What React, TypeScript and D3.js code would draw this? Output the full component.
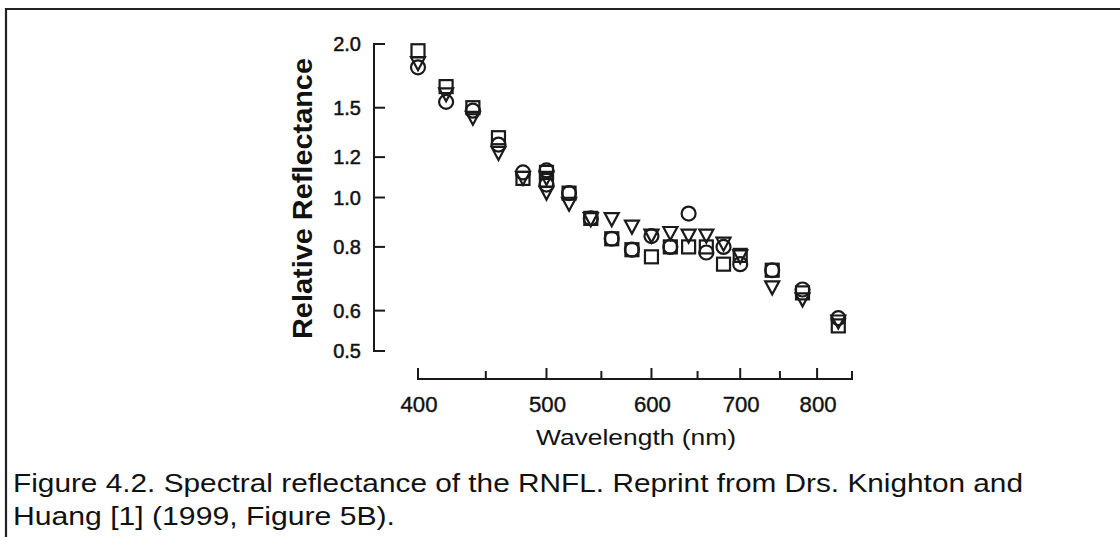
import React from "react";
import * as d3 from "d3";

const wavelengths = [400, 420, 440, 460, 480, 500, 500, 520, 540, 560, 580, 600, 620, 640, 660, 680, 700, 740, 780, 830];
const squares = [1.94, 1.65, 1.5, 1.31, 1.09, 1.12, 1.08, 1.02, 0.91, 0.83, 0.79, 0.765, 0.8, 0.8, 0.8, 0.74, 0.77, 0.72, 0.65, 0.56];
const circles = [1.8, 1.54, 1.48, 1.27, 1.12, 1.13, 1.06, 1.02, 0.91, 0.83, 0.79, 0.84, 0.8, 0.93, 0.78, 0.8, 0.74, 0.72, 0.66, 0.58];
const triangles = [1.83, 1.59, 1.43, 1.22, 1.09, 1.09, 1.02, 0.97, 0.905, 0.905, 0.875, 0.84, 0.85, 0.84, 0.84, 0.81, 0.765, 0.665, 0.63, 0.57];

const yTicks = [0.5, 0.6, 0.8, 1.0, 1.2, 1.5, 2.0];
const xMajor = [400, 500, 600, 700, 800];
const xMinor = [450, 550, 650, 750, 850];

const FONT = "Arial, 'Liberation Sans', Helvetica, sans-serif";

export default function App() {
  const x = d3.scaleLog().domain([400, 850]).range([418, 852]);
  const y = d3.scaleLog().domain([0.5, 2.0]).range([351, 44]);
  const axisX = 374;
  const axisY = 379;
  const ink = "#1a1a1a";

  const tri = (cx: number, cy: number) => {
    const w = 7, h = 6.5;
    return `M${cx - w},${cy - h}L${cx + w},${cy - h}L${cx},${cy + h}Z`;
  };

  return (
    <svg width={1120} height={537} style={{ position: "absolute", left: 0, top: 0, background: "#fff" }}>
      <rect x={0} y={0} width={1120} height={537} fill="#fff" />
      {/* frame */}
      <path d="M6,540 L6,9 L1125,9" fill="none" stroke="#222" strokeWidth={2.2} />

      {/* y axis */}
      <line x1={axisX} x2={axisX} y1={y(2.0)} y2={y(0.5)} stroke={ink} strokeWidth={2} />
      {yTicks.map((t) => (
        <g key={"yt" + t}>
          <line x1={axisX - 1} x2={axisX + 11} y1={y(t)} y2={y(t)} stroke={ink} strokeWidth={2} />
          <text x={361} y={y(t)} dy="0.36em" textAnchor="end" fontFamily={FONT} fontSize={20} fill="#111" stroke="#111" strokeWidth={0.5}>
            {t.toFixed(1)}
          </text>
        </g>
      ))}
      <text
        transform={`translate(312,${(58 + 339) / 2}) rotate(-90)`}
        textAnchor="middle"
        fontFamily={FONT}
        fontWeight="bold"
        fontSize={27}
        textLength={281}
        lengthAdjust="spacingAndGlyphs"
        fill="#111"
      >
        Relative Reflectance
      </text>

      {/* x axis */}
      <line x1={x(400)} x2={x(850)} y1={axisY} y2={axisY} stroke={ink} strokeWidth={2} />
      {xMajor.map((t) => (
        <g key={"xm" + t}>
          <line x1={x(t)} x2={x(t)} y1={axisY + 1} y2={axisY - 11} stroke={ink} strokeWidth={2} />
          <text x={x(t) + 1} y={412} textAnchor="middle" fontFamily={FONT} fontSize={22} textLength={37} lengthAdjust="spacingAndGlyphs" fill="#111" stroke="#111" strokeWidth={0.4}>
            {t}
          </text>
        </g>
      ))}
      {xMinor.map((t) => (
        <line key={"xn" + t} x1={x(t)} x2={x(t)} y1={axisY + 1} y2={axisY - 8} stroke={ink} strokeWidth={2} />
      ))}
      <text x={636} y={445} textAnchor="middle" fontFamily={FONT} fontSize={22} textLength={200} lengthAdjust="spacingAndGlyphs" fill="#111">
        Wavelength (nm)
      </text>

      {/* markers */}
      {wavelengths.map((w, i) => (
        <rect key={"s" + i} x={x(w) - 6.5} y={y(squares[i]) - 6.5} width={13} height={13} fill="none" stroke={ink} strokeWidth={2.2} />
      ))}
      {wavelengths.map((w, i) => (
        <circle key={"c" + i} cx={x(w)} cy={y(circles[i])} r={7} fill="none" stroke={ink} strokeWidth={2.2} />
      ))}
      {wavelengths.map((w, i) => (
        <path key={"t" + i} d={tri(x(w), y(triangles[i]))} fill="none" stroke={ink} strokeWidth={2.2} strokeLinejoin="miter" />
      ))}

      {/* caption */}
      <text x={13} y={492} fontFamily={FONT} fontSize={25} textLength={1010} lengthAdjust="spacingAndGlyphs" fill="#111">
        Figure 4.2. Spectral reflectance of the RNFL. Reprint from Drs. Knighton and
      </text>
      <text x={13} y={525} fontFamily={FONT} fontSize={25} textLength={382} lengthAdjust="spacingAndGlyphs" fill="#111">
        Huang [1] (1999, Figure 5B).
      </text>
    </svg>
  );
}
